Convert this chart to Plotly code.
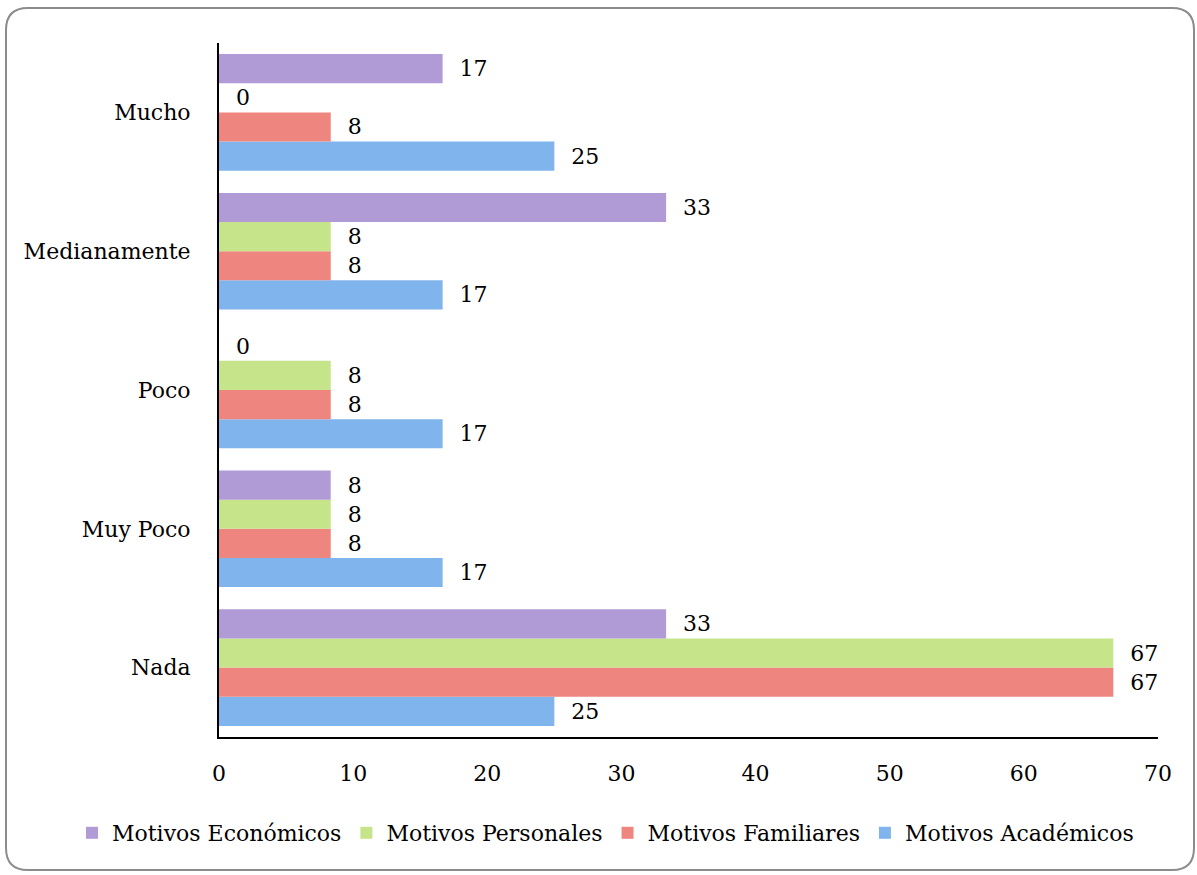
import plotly.graph_objects as go

categories = ["Nada", "Muy Poco", "Poco", "Medianamente", "Mucho"]
series_names = ["Motivos Académicos", "Motivos Familiares", "Motivos Personales", "Motivos Económicos"]
academicos = [25.0, 16.67, 16.67, 16.67, 25.0]
familiares = [66.67, 8.33, 8.33, 8.33, 8.33]
personales = [66.67, 8.33, 8.33, 8.33, 0.0]
economicos = [33.33, 8.33, 0.0, 33.33, 16.67]
x_ticks = [0, 10, 20, 30, 40, 50, 60, 70]

series_values = [academicos, familiares, personales, economicos]
colors = ["#80b4ec", "#ef857f", "#c6e48a", "#b19bd6"]

FONT = "DejaVu Serif"
FS = 22
W, H = 1197, 875
ML, MR, MT, MB = 219, 39, 43, 138

fig = go.Figure()
for name, vals, c in zip(series_names, series_values, colors):
    fig.add_trace(go.Bar(
        y=categories, x=vals, name=name, orientation="h",
        marker=dict(color=c, line=dict(width=0)),
        text=vals,
        texttemplate="\u00a0\u00a0%{x:.0f}",
        textposition="outside", constraintext="none", cliponaxis=False,
        textfont=dict(family=FONT, size=FS, color="#000"),
    ))

pw = W - ML - MR
ph = H - MT - MB
def px(p):
    return (p - ML) / pw
def py(p):
    return (H - MB - p) / ph

x0, x1, y0, y1, r = 6, 1194, 8, 870, 22
path = (
    f"M {px(x0 + r)},{py(y0)} L {px(x1 - r)},{py(y0)} "
    f"Q {px(x1)},{py(y0)} {px(x1)},{py(y0 + r)} "
    f"L {px(x1)},{py(y1 - r)} Q {px(x1)},{py(y1)} {px(x1 - r)},{py(y1)} "
    f"L {px(x0 + r)},{py(y1)} Q {px(x0)},{py(y1)} {px(x0)},{py(y1 - r)} "
    f"L {px(x0)},{py(y0 + r)} Q {px(x0)},{py(y0)} {px(x0 + r)},{py(y0)} Z"
)

fig.update_layout(
    width=W, height=H,
    margin=dict(l=ML, r=MR, t=MT, b=MB, autoexpand=False),
    paper_bgcolor="white", plot_bgcolor="white",
    barmode="group", bargap=0.16, bargroupgap=0,
    font=dict(family=FONT, size=FS, color="#000"),
    showlegend=True,
    legend=dict(orientation="h", traceorder="reversed",
                x=px(72), xref="paper", xanchor="left",
                y=py(833), yref="paper", yanchor="middle",
                font=dict(family=FONT, size=FS, color="#000"),
                bgcolor="rgba(0,0,0,0)"),
    shapes=[dict(type="path", path=path, xref="paper", yref="paper",
                 line=dict(color="#8c8c8c", width=2), layer="below")],
)
fig.update_xaxes(range=[0, 70], tickvals=x_ticks, showgrid=False, zeroline=False,
                 showline=True, linecolor="#000", linewidth=2, ticks="",
                 ticklabelstandoff=16, tickfont=dict(family=FONT, size=FS))
fig.update_yaxes(categoryorder="array", categoryarray=categories, showgrid=False,
                 showline=True, linecolor="#000", linewidth=2, ticks="",
                 ticklabelstandoff=22, tickfont=dict(family=FONT, size=FS))

fig.write_html("out.html")
